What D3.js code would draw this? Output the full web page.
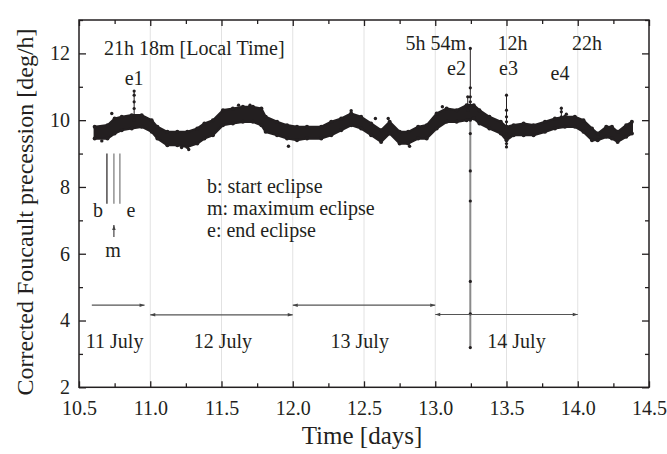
<!DOCTYPE html>
<html><head><meta charset="utf-8">
<script src="https://cdn.jsdelivr.net/npm/d3@7"></script>
<style>
body{margin:0;background:#fff}
text{font-family:"Liberation Serif","Times New Roman",serif;fill:#231f20}
</style>
</head><body>
<svg id="c" width="667" height="454"></svg>
<script>
// ---- data ----
const bandTime  = [10.61,10.70,10.75,10.80,10.87,10.94,11.01,11.05,11.12,11.19,11.26,11.33,11.38,11.44,11.51,11.58,11.65,11.72,11.78,11.81,11.89,11.96,12.03,12.10,12.20,12.27,12.34,12.41,12.48,12.55,12.62,12.68,12.75,12.81,12.88,12.94,13.01,13.08,13.15,13.22,13.27,13.31,13.38,13.46,13.50,13.55,13.62,13.69,13.77,13.84,13.91,13.98,14.04,14.10,14.14,14.20,14.24,14.28,14.34,14.38];
const bandUpper = [9.80,9.85,10.05,10.10,10.15,10.15,10.00,9.80,9.65,9.65,9.65,9.75,9.90,10.00,10.30,10.35,10.40,10.40,10.35,10.10,9.95,9.85,9.80,9.80,9.80,9.95,10.05,10.20,10.10,9.90,9.70,9.95,9.65,9.65,9.80,9.85,10.20,10.35,10.30,10.45,10.45,10.30,10.10,9.95,9.80,9.85,9.90,9.85,9.95,10.05,10.10,10.10,10.00,9.75,9.60,9.80,9.80,9.65,9.85,9.95];
const bandLower = [9.45,9.45,9.60,9.70,9.75,9.80,9.65,9.45,9.25,9.25,9.20,9.30,9.45,9.55,9.85,9.90,9.95,9.95,9.85,9.65,9.55,9.45,9.40,9.45,9.45,9.55,9.70,9.85,9.75,9.55,9.35,9.60,9.30,9.30,9.45,9.45,9.75,9.95,9.95,10.00,10.05,9.90,9.75,9.60,9.40,9.55,9.55,9.55,9.65,9.75,9.80,9.80,9.65,9.40,9.40,9.50,9.45,9.35,9.50,9.60];
const outlierTime  = [11.27,11.97,12.82,12.58,11.22,10.66,12.41,13.92,10.73,12.67,11.62,11.70,13.05];
const outlierValue = [9.12,9.22,9.22,10.05,9.18,9.38,10.28,10.18,10.20,10.05,10.45,10.45,10.40];

const e1Time = 10.887, e1Values = [10.0,10.35,10.55,10.75,10.87];
const e2Time = 13.246, e2Upper = [10.45,10.55,10.70,10.97,12.15];
const e2Lower = [10.0,9.6,8.48,7.58,5.17,4.20,3.19];
const e2bTime = 13.228, e2bValues = [10.3,10.45,10.7];
const e3Time = 13.50, e3Values = [9.2,9.3,9.6,9.95,10.1,10.3,10.75];
const e4Time = 13.885, e4Values = [10.1,10.25,10.36];

const markerTimes = [10.696,10.745,10.787];
const markerFrom = 9.0, markerTo = 7.5;

const dayLabels = ["11 July","12 July","13 July","14 July"];
const dayStart  = [10.59,11.0,12.0,13.0];
const dayEnd    = [10.96,12.0,13.0,14.0];
const dayLevel  = [4.46,4.17,4.46,4.18];
const dayLabelT = [10.75,11.51,12.47,13.57];

const xMajor = [10.5,11.0,11.5,12.0,12.5,13.0,13.5,14.0,14.5];
const xMinor = [10.75,11.25,11.75,12.25,12.75,13.25,13.75,14.25];
const yMajor = [2,4,6,8,10,12];
const yMinor = [3,5,7,9,11,13];
const gridX  = [11.0,11.5,12.0,12.5,13.0,13.5,14.0];

const legendLines = ["b: start eclipse","m: maximum eclipse","e: end eclipse"];

// ---- layout ----
const L=79, R=649, T=20, B=387.3;
const x = d3.scaleLinear().domain([10.5,14.5]).range([L,R]);
const y = d3.scaleLinear().domain([2,13]).range([B,T]);
const svg = d3.select("#c");
const ink = "#231f20";

// grid
svg.append("g").selectAll("line").data(gridX).join("line")
  .attr("x1",d=>x(d)).attr("x2",d=>x(d)).attr("y1",T).attr("y2",B)
  .attr("stroke","#e2e2e2").attr("stroke-width",1);

// axes
function ax(gen, tx, ty, vals, size, labels, pad){
  const g = svg.append("g").attr("transform",`translate(${tx},${ty})`)
    .call(gen.tickValues(vals).tickSize(size).tickPadding(pad||0)
      .tickFormat(labels ? labels : ()=>""));
  g.select(".domain").remove();
  g.selectAll(".tick line").attr("stroke",ink).attr("stroke-width",1.3);
  g.selectAll("text").style("font-family",'"Liberation Serif",serif').style("font-size","20px").attr("fill",ink);
  return g;
}
ax(d3.axisBottom(x),0,B,xMajor,-6,d=>d.toFixed(1),14);
ax(d3.axisBottom(x),0,B,xMinor,-4);
ax(d3.axisTop(x),0,T,xMajor,-6);
ax(d3.axisTop(x),0,T,xMinor,-4);
ax(d3.axisLeft(y),L,0,yMajor,-7,d=>d,9);
ax(d3.axisLeft(y),L,0,yMinor,-4);
ax(d3.axisRight(y),R,0,yMajor,-7);
ax(d3.axisRight(y),R,0,yMinor,-4);

svg.append("rect").attr("x",L).attr("y",T).attr("width",R-L).attr("height",B-T)
  .attr("fill","none").attr("stroke",ink).attr("stroke-width",1.5);

// axis titles
svg.append("text").attr("x",(L+R)/2-2).attr("y",444).attr("text-anchor","middle")
  .style("font-size","25px").text("Time [days]");
svg.append("text").attr("transform","translate(33,212) rotate(-90)").attr("text-anchor","middle")
  .style("font-size","24px").text("Corrected Foucault precession [deg/h]");

// e2 lower gray spike
const ln = d3.line().x(d=>x(d[0])).y(d=>y(d[1]));
svg.append("path").attr("d",ln(e2Lower.map(v=>[e2Time,v]))).attr("stroke","#8a8a8a").attr("stroke-width",2).attr("fill","none");

// band
const band = bandTime.map((t,i)=>({t,u:bandUpper[i],l:bandLower[i]}));
svg.append("path").attr("d",d3.area().x(d=>x(d.t)).y0(d=>y(d.l)).y1(d=>y(d.u)).curve(d3.curveLinear)(band))
  .attr("fill",ink).attr("stroke",ink).attr("stroke-width",2.2).attr("stroke-linejoin","round");
const dots = svg.append("g").attr("fill",ink);
band.forEach(d=>{
  dots.append("circle").attr("cx",x(d.t)).attr("cy",y(d.u)).attr("r",2);
  dots.append("circle").attr("cx",x(d.t)).attr("cy",y(d.l)).attr("r",2);
});
outlierTime.forEach((t,i)=>dots.append("circle").attr("cx",x(t)).attr("cy",y(outlierValue[i])).attr("r",1.7));

// spikes
function spike(t, vals, color, w){
  svg.append("path").attr("d",ln(vals.map(v=>[t,v]))).attr("stroke",color).attr("stroke-width",w).attr("fill","none");
  svg.append("g").selectAll("circle").data(vals).join("circle")
    .attr("cx",x(t)).attr("cy",d=>y(d)).attr("r",1.6).attr("fill",ink);
}
spike(e1Time,e1Values,ink,1);
spike(e2Time,e2Upper,ink,1);
spike(e2bTime,e2bValues,ink,1);
spike(e3Time,e3Values,ink,1);
spike(e4Time,e4Values,ink,1);
svg.append("g").selectAll("circle").data(e2Lower).join("circle")
  .attr("cx",x(e2Time)).attr("cy",d=>y(d)).attr("r",1.6).attr("fill",ink);

// eclipse markers
svg.append("g").selectAll("line").data(markerTimes).join("line")
  .attr("x1",d=>x(d)).attr("x2",d=>x(d)).attr("y1",y(markerFrom)).attr("y2",y(markerTo))
  .attr("stroke",(d,i)=>i===0?ink:"#777").attr("stroke-width",1.2);

// arrowheads
const defs = svg.append("defs");
function marker(id, ori){
  defs.append("marker").attr("id",id).attr("viewBox","0 0 10 10").attr("refX",10).attr("refY",5)
    .attr("markerWidth",7).attr("markerHeight",5).attr("orient",ori).attr("markerUnits","userSpaceOnUse")
    .append("path").attr("d","M0,1.5L10,5L0,8.5z").attr("fill","#444");
}
marker("ah","auto");
marker("ahs","auto-start-reverse");

// day spans
dayLabels.forEach((lab,i)=>{
  svg.append("line").attr("x1",x(dayStart[i])).attr("x2",x(dayEnd[i]))
    .attr("y1",y(dayLevel[i])).attr("y2",y(dayLevel[i]))
    .attr("stroke","#555").attr("stroke-width",1.2)
    .attr("marker-end","url(#ah)")
    .attr("marker-start", i===0 ? null : "url(#ahs)");
  svg.append("text").attr("x",x(dayLabelT[i])).attr("y",348).attr("text-anchor","middle")
    .style("font-size","20px").text(lab);
});

// m arrow
svg.append("line").attr("x1",x(markerTimes[1])).attr("x2",x(markerTimes[1]))
  .attr("y1",237).attr("y2",225).attr("stroke",ink).attr("stroke-width",1).attr("marker-end","url(#ah)");

// annotations
function txt(t, xx, yy, anchor, size){
  svg.append("text").attr("x",xx).attr("y",yy).attr("text-anchor",anchor||"start")
    .style("font-size",(size||20)+"px").text(t);
}
txt("21h 18m [Local Time]",104,55);
txt("e1",x(e1Time),85,"middle");
txt("5h 54m",466,50,"end");
txt("e2",466,75,"end");
txt("12h",x(e3Time)-9,50,"start");
txt("e3",x(e3Time)+2,75,"middle");
txt("22h",572,50,"start");
txt("e4",560,80,"middle");
txt("b",98,217,"middle");
txt("e",131,217,"middle");
txt("m",113,257,"middle");
legendLines.forEach((s,i)=>txt(s,207,193+i*22));
</script>
</body></html>
